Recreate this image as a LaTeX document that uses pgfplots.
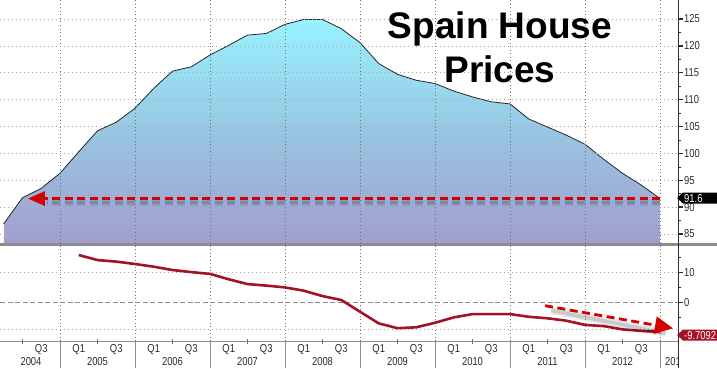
\documentclass[border=0pt]{standalone}
\usepackage{pgfplots}
\pgfplotsset{compat=1.18}
\usepackage{pgfplotstable}
\usepackage{fontspec}
\setmainfont{Liberation Sans}
\newfontfamily\tickfont[FakeStretch=0.82]{Liberation Sans}
\usetikzlibrary{arrows.meta}
\definecolor{tickgray}{RGB}{45,45,45}
\definecolor{fillTop}{RGB}{152,242,255}
\definecolor{fillMid}{RGB}{152,198,226}
\definecolor{fillBot}{RGB}{162,158,206}
\definecolor{yoyred}{RGB}{163,18,40}
\definecolor{arrred}{RGB}{212,0,0}
\definecolor{sepgray}{RGB}{140,140,140}
\newcommand\tf{\tickfont\fontsize{11.5}{13}\selectfont}

\pgfplotstableread{
t v
0 86.9
1 91.75
2 93.5
3 96.3
4 100.3
5 104.2
6 105.8
7 108.4
8 112.1
9 115.3
10 116.1
11 118.3
12 120.1
13 122.0
14 122.3
15 124.0
16 124.9
17 124.9
18 123.2
19 120.6
20 116.7
21 114.7
22 113.6
23 113.0
24 111.6
25 110.5
26 109.6
27 109.2
28 106.4
29 104.9
30 103.4
31 101.7
32 98.9
33 96.3
34 94.1
35 91.6
}\hpi

\pgfplotstableread{
t v
0 83.33
0 86.9
1 91.75
2 93.5
3 96.3
4 100.3
5 104.2
6 105.8
7 108.4
8 112.1
9 115.3
10 116.1
11 118.3
12 120.1
13 122.0
14 122.3
15 124.0
16 124.9
17 124.9
18 123.2
19 120.6
20 116.7
21 114.7
22 113.6
23 113.0
24 111.6
25 110.5
26 109.6
27 109.2
28 106.4
29 104.9
30 103.4
31 101.7
32 98.9
33 96.3
34 94.1
35 91.6
35 83.33
}\hpifill

\pgfplotstableread{
t v
4 15.9
5 14.2
6 13.7
7 12.9
8 12.0
9 10.9
10 10.2
11 9.6
12 7.8
13 6.2
14 5.7
15 5.1
16 4.0
17 2.2
18 0.9
19 -3.0
20 -6.9
21 -8.5
22 -8.2
23 -6.7
24 -4.9
25 -3.8
26 -3.8
27 -3.8
28 -4.7
29 -5.2
30 -6.0
31 -7.4
32 -7.8
33 -8.9
34 -9.4
35 -9.7092
}\yoy

\begin{document}
\begin{tikzpicture}
\clip (0,0) rectangle (717pt,368pt);
\fill[white] (0,0) rectangle (717pt,368pt);
% top panel
\begin{axis}[
  at={(0pt,125pt)}, anchor=south west,
  scale only axis, width=678pt, height=243pt,
  xmin=-0.2, xmax=35.96, ymin=83.33, ymax=128.53,
  axis line style={draw=none},
  axis on top,
  xtick={3,7,...,35}, xticklabels={}, major x tick style={draw=none},
  xmajorgrids, x grid style={black!55, line width=0.6pt, dash pattern=on 1pt off 2.5pt},
  ytick={85,90,...,125}, minor y tick num=1,
  ymajorgrids, y grid style={black!35, line width=0.6pt, dash pattern=on 1pt off 3pt},
  ytick pos=right, yticklabel pos=right,
  tick align=outside,
  major tick length=5pt, minor tick length=3pt,
  major y tick style={tickgray, line width=1.4pt},
  minor y tick style={tickgray, line width=0.6pt},
  /pgf/number format/assume math mode=true,
  y tick label style={font=\tf, text=tickgray, xshift=-2.5pt},
]
\addplot[draw=none, top color=fillTop, bottom color=fillBot, middle color=fillMid] table {\hpifill} -- cycle;
\addplot[draw=black!85, line width=0.8pt, mark=none] table {\hpi};
% shadow + arrow
\draw[black, opacity=0.10, line width=6pt, dash pattern=on 8pt off 4.5pt] (axis cs:35,90.8) -- (axis cs:2.3,90.8);
\draw[black, opacity=0.12, line width=3pt, dash pattern=on 8pt off 4.5pt] (axis cs:35,90.8) -- (axis cs:2.3,90.8);
\draw[arrred, line width=2.8pt, dash pattern=on 8pt off 4.5pt, -{Triangle[length=17pt,width=14pt]}] (axis cs:35,91.6) -- (axis cs:1.29,91.6);
\end{axis}
% bottom panel
\begin{axis}[
  at={(0pt,27pt)}, anchor=south west,
  scale only axis, width=678pt, height=95pt,
  xmin=-0.2, xmax=35.96, ymin=-12.77, ymax=18.9,
  axis line style={draw=none},
  xtick={3,7,...,35}, xticklabels={}, major x tick style={draw=none},
  xmajorgrids, x grid style={black!55, line width=0.6pt, dash pattern=on 1pt off 2.5pt},
  ytick={0,10}, minor ytick={-5,5,15},
  ytick pos=right, yticklabel pos=right,
  tick align=outside,
  major tick length=5pt, minor tick length=3pt,
  major y tick style={tickgray, line width=1.4pt},
  minor y tick style={tickgray, line width=0.6pt},
  /pgf/number format/assume math mode=true,
  y tick label style={font=\tf, text=tickgray, xshift=-2.5pt},
]
\draw[black!35, line width=0.6pt, dash pattern=on 1pt off 3pt] (axis cs:-0.2,10) -- (axis cs:35.96,10);
\draw[black!35, line width=0.6pt, dash pattern=on 1pt off 3pt] (axis cs:-0.2,-8.8) -- (axis cs:35.96,-8.8);
\draw[black!45, line width=0.7pt, dash pattern=on 5pt off 2.5pt] (axis cs:-0.2,0) -- (axis cs:35.96,0);
\addplot[yoyred, line width=2.6pt, mark=none, line join=round] table {\yoy};
\draw[black, opacity=0.10, line width=7pt] (axis cs:29.2,-2.6) -- (axis cs:35.3,-10.2);
\draw[black, opacity=0.12, line width=3.5pt] (axis cs:29.2,-2.6) -- (axis cs:35.3,-10.2);
\draw[arrred, line width=2.8pt, dash pattern=on 8pt off 4.5pt, -{Triangle[length=18pt,width=17pt]}] (axis cs:28.87,-1.0) -- (axis cs:35.69,-8.53);
\end{axis}
% separator bar
\fill[sepgray] (0pt,122pt) rectangle (717pt,125.5pt);
% bottom axis line and right axis line
\draw[black!45, line width=0.7pt] (0pt,27pt) -- (678pt,27pt);
\draw[tickgray, line width=0.8pt] (678pt,0pt) -- (678pt,368pt);
% year separators below axis
\foreach \t in {3,7,...,35} \draw[black!45, line width=0.7pt] ({3.75pt+18.75pt*\t},0pt) -- ({3.75pt+18.75pt*\t},27pt);
% mid-year ticks
\foreach \t in {1,5,...,33} \draw[black!55, line width=0.6pt] ({3.75pt+18.75pt*\t},24.5pt) -- ({3.75pt+18.75pt*\t},29.5pt);
% quarter labels
\foreach \t/\lab in {2/Q3,4/Q1,6/Q3,8/Q1,10/Q3,12/Q1,14/Q3,16/Q1,18/Q3,20/Q1,22/Q3,24/Q1,26/Q3,28/Q1,30/Q3,32/Q1,34/Q3}
  \node[anchor=base, inner sep=0pt, font=\tf, text=tickgray] at ({3.75pt+18.75pt*\t},15.5pt) {\lab};
% year labels
\node[anchor=base, inner sep=0pt, font=\tf, text=tickgray] at (31pt,3pt) {2004};
\foreach \t/\lab in {5/2005,9/2006,13/2007,17/2008,21/2009,25/2010,29/2011,33/2012}
  \node[anchor=base, inner sep=0pt, font=\tf, text=tickgray] at ({3.75pt+18.75pt*\t},3pt) {\lab};
\begin{scope}
\clip (660pt,0pt) rectangle (677.5pt,20pt);
\node[anchor=base west, inner sep=0pt, font=\tf, text=tickgray] at (665pt,3pt) {2013};
\end{scope}
% value labels at right
\fill[black] (677pt,170pt) -- (683pt,175.5pt) -- (717pt,175.5pt) -- (717pt,164.5pt) -- (683pt,164.5pt) -- cycle;
\node[anchor=west, inner sep=0pt, font=\tf, text=white] at (684pt,169.5pt) {91.6};
\fill[yoyred] (677pt,33pt) -- (683pt,38.5pt) -- (717pt,38.5pt) -- (717pt,27.5pt) -- (683pt,27.5pt) -- cycle;
\node[anchor=west, inner sep=0pt, font=\tf, text=white] at (684pt,32.5pt) {-9.7092};
% title
\node[anchor=base, inner sep=0pt, font=\fontsize{37}{40}\selectfont\bfseries] at (500pt,330pt) {Spain House};
\node[anchor=base, inner sep=0pt, font=\fontsize{37}{40}\selectfont\bfseries] at (500pt,286pt) {Prices};
\end{tikzpicture}
\end{document}
